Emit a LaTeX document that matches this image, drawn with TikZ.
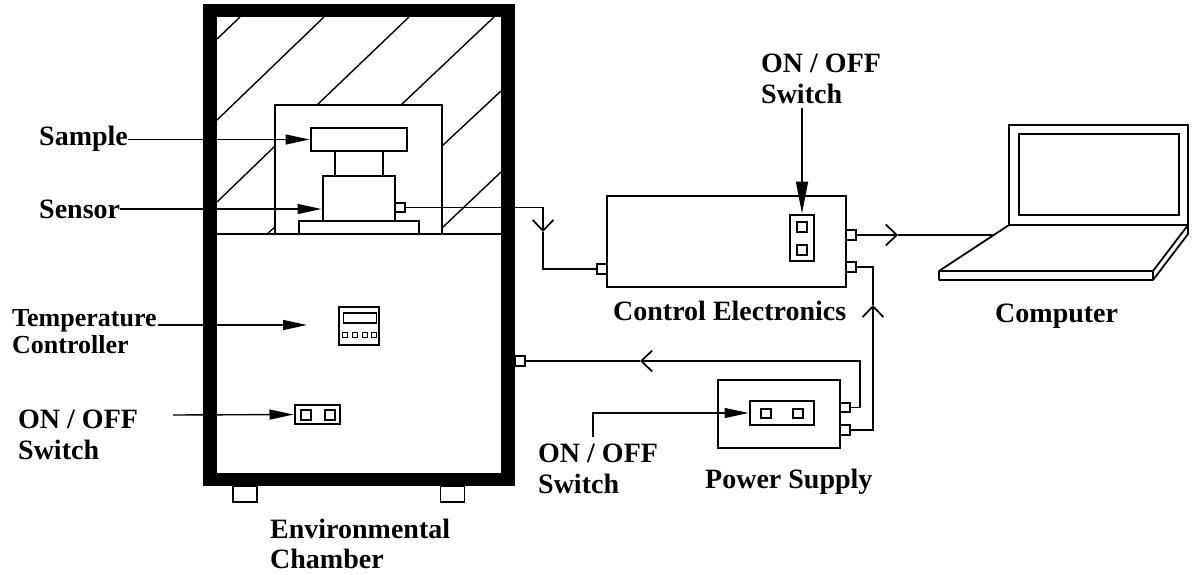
\documentclass[tikz,border=0pt]{standalone}
\usepackage{fontspec}
\setmainfont{Liberation Serif}
\usetikzlibrary{arrows.meta,positioning}

\begin{document}
\begin{tikzpicture}[
    x=1pt, y=-1pt,
    part/.style={draw, line width=1.8pt, inner sep=0pt, outer sep=0pt, minimum width=#1},
    port/.style={draw, line width=1.7pt, fill=white, inner sep=0pt, outer sep=0pt, minimum width=10pt, minimum height=9.5pt},
    label/.style={font=\bfseries\fontsize{28}{30.5}\selectfont, align=left, inner sep=0pt, anchor=west},
    hatchline/.style={line width=1.4pt},
    wire/.style={line width=1.7pt},
    wiretip/.style={wire, -{Straight Barb[length=11pt,width=21pt,line width=1.7pt]}},
    leader/.style={line width=1.4pt, shorten >=1.5pt, -{Triangle[length=24pt,width=10pt]}}
]
\useasboundingbox (0,0) rectangle (1193,575);

% hatching behind the sample
\draw[hatchline] (217,39) -- (240,17);
\draw[hatchline] (217,120) -- (324,17);
\draw[hatchline] (317,105) -- (409,17);
\draw[hatchline] (401,105) -- (494,17);
\draw[hatchline] (442,146) -- (501,91);
\draw[hatchline] (217,202) -- (275,146);
\draw[hatchline] (442,228) -- (501,172);
\draw[hatchline] (267,234) -- (275,227);

% chamber
\node[part=24pt, minimum height=16pt] (footl) at (245,494) {};
\node[part=24pt, minimum height=16pt] (footr) at (452.5,494) {};
\node[draw, line width=13.5pt, inner sep=0pt, minimum width=298pt, minimum height=469pt] (chamber) at (359,245) {};
\coordinate (floorl) at (217,234);
\coordinate (floorr) at (501,234);
\draw[line width=1.8pt] (floorl) -- (floorr);
\node[part=167pt, minimum height=129pt] (holder) at (358.5,169.5) {};
\node[part=96pt, minimum height=23pt] (sample) at (359,139.5) {};
\node[part=48pt, minimum height=25pt, below=0pt of sample] (neck) {};
\node[part=72pt, minimum height=45pt, below=0pt of neck] (sensor) {};
\node[part=120pt, minimum height=13pt, below=0pt of sensor] (plate) {};
\node[port, anchor=west] (sensorport) at (395,207.5) {};

% temperature controller
\node[part=40pt, minimum height=38pt] (tempctrl) at (359,326) {};
\node[part=33pt, minimum height=10pt] (display) at (360,318) {};
\foreach \i/\px in {1/345,2/355,3/365,4/374}
    \node[draw, line width=1.3pt, inner sep=0pt, minimum size=4.5pt] (key\i) at (\px,335) {};

% chamber switch
\node[part=45pt, minimum height=19pt] (chswitch) at (317.5,414.5) {};
\node[part=10pt, minimum height=10pt] (chkeya) at (306,415) {};
\node[part=10pt, minimum height=10pt] (chkeyb) at (330,415) {};
\node[port, anchor=west] (chamberport) at (515,361) {};

% control electronics
\node[part=239pt, minimum height=91pt] (control) at (726.5,241.5) {};
\node[part=24pt, minimum height=46pt] (ctrlswitch) at (802,238) {};
\node[part=10pt, minimum height=10pt] (ctrlkeya) at (802,227) {};
\node[part=10pt, minimum height=10pt] (ctrlkeyb) at (802,250) {};
\node[port, anchor=east] (ctrlin) at (607,269) {};
\node[port, anchor=west] (ctrlout) at (846,235) {};
\node[port, anchor=west] (ctrlpwr) at (846,267) {};

% power supply
\node[part=122pt, minimum height=68pt] (power) at (779,414) {};
\node[part=64pt, minimum height=24pt] (pwswitch) at (782,413) {};
\node[part=10pt, minimum height=9.5pt] (pwkeya) at (766,413.5) {};
\node[part=10pt, minimum height=9.5pt] (pwkeyb) at (798,413.5) {};
\node[port, anchor=west] (powera) at (840,407.5) {};
\node[port, anchor=west] (powerb) at (840,430) {};

% computer
\node[part=179pt, minimum height=100pt] (lid) at (1098.5,175) {};
\node[part=160pt, minimum height=81pt] (screen) at (1099,174.5) {};
\coordinate (hingel) at (1009,225);
\coordinate (hinger) at (1188,225);
\coordinate (frontr) at (1153,271);
\coordinate (frontl) at (939,271);
\coordinate (lowerl) at (939,280);
\coordinate (lowerr) at (1153,280);
\coordinate (backr) at (1188,234);
\draw[line width=1.8pt, line join=round] (hingel) -- (hinger) -- (frontr) -- (frontl) -- cycle;
\draw[line width=1.8pt, line join=round] (frontl) -- (lowerl) -- (lowerr) -- (frontr);
\draw[line width=1.8pt, line join=round] (lowerr) -- (backr) -- (hinger);

% labels
\node[label] (samplelabel) at (39,139) {Sample};
\node[label] (sensorlabel) at (39,209) {Sensor};
\node[label, font=\bfseries\fontsize{26}{27}\selectfont] (templabel) at (12,332) {Temperature\\Controller};
\node[label] (chswlabel) at (18,435) {ON / OFF\\Switch};
\node[label] (chamberlabel) at (270,544) {Environmental\\Chamber};
\node[label] (ctrllabel) at (613,311) {Control Electronics};
\node[label] (ctrlswlabel) at (761,79) {ON / OFF\\Switch};
\node[label] (complabel) at (995,316) {Computer};
\node[label] (powerlabel) at (705,482) {Power Supply};
\node[label] (pwswlabel) at (538,469) {ON / OFF\\Switch};

% leaders
\coordinate (sensorstart) at (120,209);
\coordinate (sensorend) at (323,209);
\coordinate (tempstart) at (158,325);
\coordinate (tempend) at (307,325);
\coordinate (chswstart) at (173,415);
\coordinate (ctrlswstart) at (802,108);
\coordinate (pwswstart) at (593,437);
\draw[leader] (samplelabel.east |- sample.west) -- (sample.west);
\draw[leader] (sensorstart) -- (sensorend);
\draw[leader, shorten >=0pt] (tempstart) -- (tempend);
\draw[leader] (chswstart) -- (chswitch.west);
\draw[leader, line width=1.7pt, -{Triangle[length=32pt,width=12pt]}] (ctrlswstart) -- (ctrlswitch.north);
\draw[leader, line width=1.2pt] (pwswstart) |- (pwswitch.west);

% wires
\coordinate (tipin) at (543,232);
\coordinate (tipout) at (898,235);
\coordinate (tippwr) at (873,305);
\coordinate (turn) at (860,361);
\coordinate (tipchamber) at (640,361);
\coordinate (lapjoin) at (993,235);
\draw[wiretip] (sensorport.east) -| (tipin);
\draw[wire] (tipin) |- (ctrlin.west);
\draw[wiretip] (ctrlout.east) -- (tipout);
\draw[wire] (tipout) -- (lapjoin);
\draw[wiretip] (powerb.east) -| (tippwr);
\draw[wire] (tippwr) |- (ctrlpwr.east);
\draw[wiretip] (powera.east) -| (turn) -- (tipchamber);
\draw[wire] (tipchamber) -- (chamberport.east);
\end{tikzpicture}
\end{document}
